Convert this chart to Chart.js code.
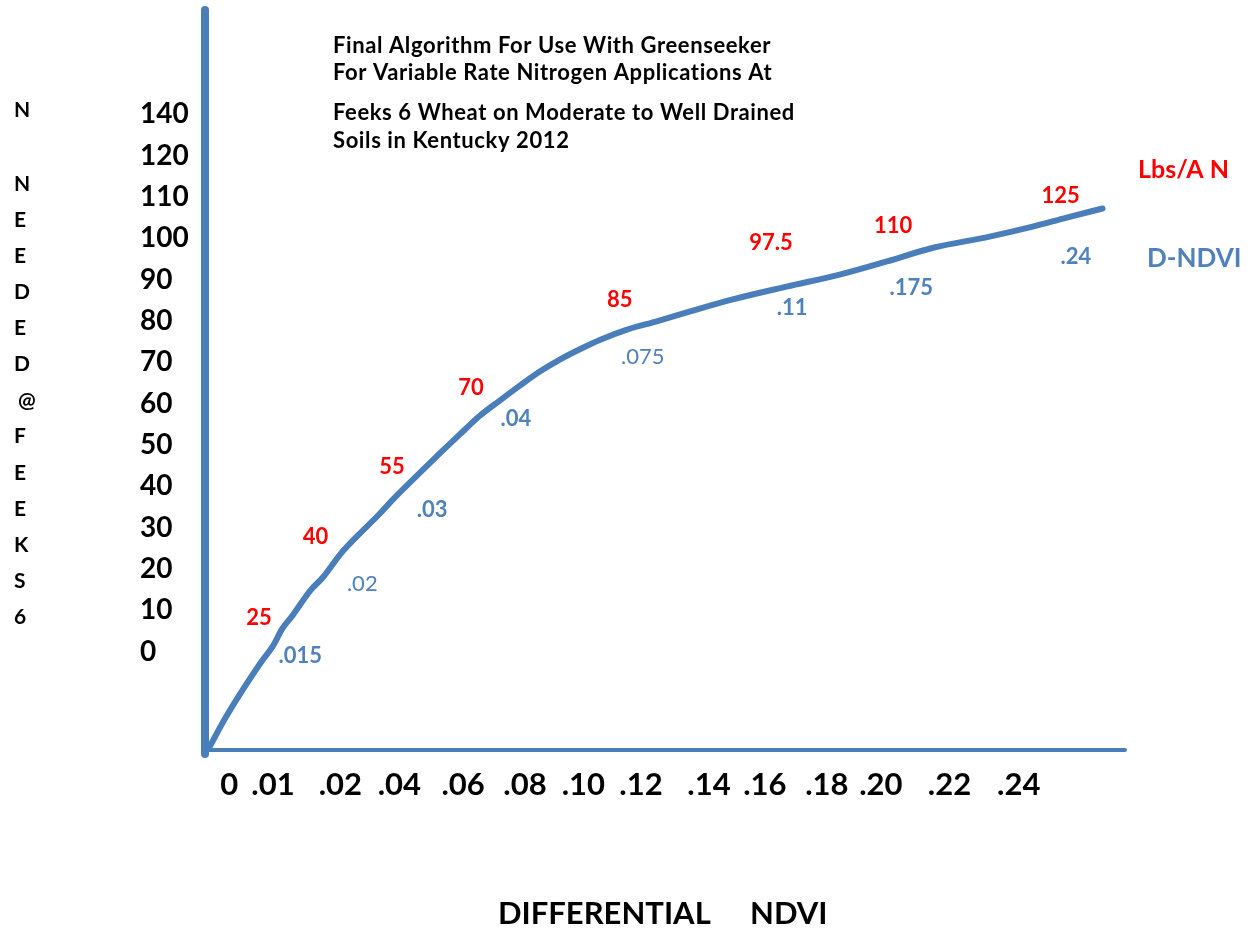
<!DOCTYPE html>
<html>
<head>
<meta charset="utf-8">
<title>Greenseeker N algorithm – Feeks 6 wheat</title>
<script src="https://cdn.jsdelivr.net/npm/chart.js@4.4.1/dist/chart.umd.min.js"></script>
<style>
  html, body { margin: 0; padding: 0; background: #ffffff; }
  #wrap { position: relative; width: 1257px; height: 934px; }
  canvas { display: block; }
</style>
</head>
<body>
<div id="wrap"><canvas id="chart" width="1257" height="934"></canvas></div>
<script>
// Horizontal axis: D-NDVI labels sit in slots along the axis (slot units)
const xTickLabels = ['0', '.01', '.02', '.04', '.06', '.08', '.10', '.12', '.14', '.16', '.18', '.20', '.22', '.24'];
const xTickSlots  = [0, 0.72, 1.83, 2.8, 3.85, 4.87, 5.83, 6.78, 7.9, 8.82, 9.84, 10.73, 11.86, 13];

// Vertical axis: N needed labels, one per slot of 10
const yTickLabels = ['0', '10', '20', '30', '40', '50', '60', '70', '80', '90', '100', '110', '120', '140'];

// Response curve (x in axis slots, y in N units)
const curveX = [-0.33, -0.07, 0.21, 0.54, 0.72, 0.87, 1.04, 1.33, 1.55, 1.83, 2.11, 2.44, 2.70, 2.98,
                3.47, 3.80, 4.13, 4.46, 4.79, 5.12, 5.45, 5.78, 6.10, 6.55, 7.04, 7.59, 8.29, 9.18,
                10.05, 10.83, 11.59, 12.52, 13.23, 13.79, 14.38];
const curveY = [-23.4, -16.4, -9.7, -2.4, 1.2, 5.3, 8.5, 14.5, 17.9, 23.4, 27.8, 32.6, 36.7, 40.8,
                47.8, 52.4, 56.9, 60.6, 64.2, 67.6, 70.5, 73.0, 75.2, 77.7, 79.7, 82.1, 85.0, 88.1,
                91.0, 94.2, 97.5, 100.2, 102.6, 104.8, 107.0];

// Recommended N rates (Lbs/A N) along the curve
const nRates  = ['25', '40', '55', '70', '85', '97.5', '110', '125'];
const nRateX  = [0.49, 1.42, 2.68, 3.98, 6.43, 8.92, 10.93, 13.69];
const nRateY  = [8.0, 27.5, 44.4, 63.5, 85.0, 98.7, 102.9, 110.1];

// Matching differential NDVI readings
const dNdvi   = ['.015', '.02', '.03', '.04', '.075', '.11', '.175', '.24'];
const dNdviX  = [1.17, 2.19, 3.34, 4.72, 6.81, 9.27, 11.23, 13.94];
const dNdviY  = [-1.2, 16.2, 34.0, 56.2, 71.0, 83.0, 87.9, 95.4];

const titleLines = [
  'Final Algorithm For Use With Greenseeker',
  'For Variable Rate Nitrogen Applications At',
  'Feeks 6 Wheat on Moderate to Well Drained',
  'Soils in Kentucky 2012'
];
const yAxisWords = ['N', 'N', 'E', 'E', 'D', 'E', 'D', '@', 'F', 'E', 'E', 'K', 'S', '6'];

const BLUE = '#4a7ebb';
const BLUE_TEXT = '#4f81bd';
const RED = '#ff0000';
const FONT = 'Lato, "Open Sans", "DejaVu Sans", sans-serif';

// Axes, labels and annotations drawn against the chart's scales
const decorations = {
  id: 'decorations',
  beforeDatasetsDraw(chart) {
    const { ctx, chartArea: a } = chart;
    ctx.save();
    ctx.strokeStyle = BLUE;
    ctx.lineCap = 'round';
    // horizontal axis line
    ctx.lineWidth = 4;
    ctx.beginPath();
    ctx.moveTo(a.left, a.bottom);
    ctx.lineTo(a.right, a.bottom);
    ctx.stroke();
    // vertical axis line
    ctx.lineWidth = 8;
    ctx.beginPath();
    ctx.moveTo(a.left, a.top + 2);
    ctx.lineTo(a.left, a.bottom + 4);
    ctx.stroke();
    ctx.restore();
  },
  afterDraw(chart) {
    const { ctx } = chart;
    const xs = chart.scales.x, ys = chart.scales.y;
    ctx.save();

    // title block
    ctx.fillStyle = '#000';
    ctx.textAlign = 'left';
    ctx.textBaseline = 'alphabetic';
    ctx.font = 'bold 22px ' + FONT;
    if ('letterSpacing' in ctx) ctx.letterSpacing = '0.6px';
    const titleBase = [53, 80, 120, 148];
    titleLines.forEach((t, i) => ctx.fillText(t, 333, titleBase[i]));
    if ('letterSpacing' in ctx) ctx.letterSpacing = '0px';

    // x tick labels
    ctx.font = 'bold 31px ' + FONT;
    ctx.textAlign = 'center';
    xTickLabels.forEach((t, i) => ctx.fillText(t, xs.getPixelForValue(xTickSlots[i]), 795));

    // y tick labels
    ctx.font = 'bold 28px ' + FONT;
    ctx.textAlign = 'left';
    ctx.textBaseline = 'middle';
    yTickLabels.forEach((t, i) => ctx.fillText(t, 140, ys.getPixelForValue(i * 10) + 1));

    // vertical axis caption, one character per line
    ctx.font = 'bold 21px ' + FONT;
    yAxisWords.forEach((c, i) => {
      const y = i === 0 ? 110 : 184 + (i - 1) * 36.1;
      ctx.fillText(c, c === '@' ? 18 : 14, y);
    });

    // horizontal axis caption
    ctx.font = 'bold 31px ' + FONT;
    ctx.textBaseline = 'alphabetic';
    ctx.fillText('DIFFERENTIAL', 498, 924);
    ctx.fillText('NDVI', 750, 924);

    // N rate annotations
    ctx.textAlign = 'center';
    ctx.textBaseline = 'middle';
    ctx.fillStyle = RED;
    ctx.font = 'bold 22px ' + FONT;
    nRates.forEach((t, i) => ctx.fillText(t, xs.getPixelForValue(nRateX[i]), ys.getPixelForValue(nRateY[i])));

    // D-NDVI annotations
    ctx.fillStyle = BLUE_TEXT;
    const light = new Set(['.02', '.075']);
    dNdvi.forEach((t, i) => {
      ctx.font = (light.has(t) ? '22px ' : 'bold 22px ') + FONT;
      ctx.fillText(t, xs.getPixelForValue(dNdviX[i]), ys.getPixelForValue(dNdviY[i]));
    });

    // series keys at the right
    ctx.textAlign = 'left';
    ctx.fillStyle = RED;
    ctx.font = 'bold 25px ' + FONT;
    ctx.fillText('Lbs/A N', 1138, 170);
    ctx.fillStyle = BLUE_TEXT;
    ctx.font = 'bold 26px ' + FONT;
    ctx.fillText('D-NDVI', 1147, 259);

    ctx.restore();
  }
};

function build() {
  new Chart(document.getElementById('chart'), {
    type: 'line',
    data: {
      datasets: [{
        label: 'N needed',
        data: curveX.map((x, i) => ({ x, y: curveY[i] })),
        borderColor: BLUE,
        borderWidth: 6,
        borderCapStyle: 'round',
        borderJoinStyle: 'round',
        pointRadius: 0,
        fill: false,
        cubicInterpolationMode: 'monotone'
      }]
    },
    options: {
      responsive: false,
      animation: false,
      devicePixelRatio: 1,
      layout: { padding: { left: 205, right: 132, top: 8, bottom: 184 } },
      plugins: { legend: { display: false }, tooltip: { enabled: false }, title: { display: false } },
      scales: {
        x: { type: 'linear', min: -0.4, max: 14.75, display: false },
        y: { type: 'linear', min: -24, max: 155.5, display: false }
      }
    },
    plugins: [decorations]
  });
}

if (document.fonts && document.fonts.load) {
  Promise.all([
    document.fonts.load('bold 20px Lato'),
    document.fonts.load('20px Lato')
  ]).then(build, build);
} else {
  build();
}
</script>
</body>
</html>
